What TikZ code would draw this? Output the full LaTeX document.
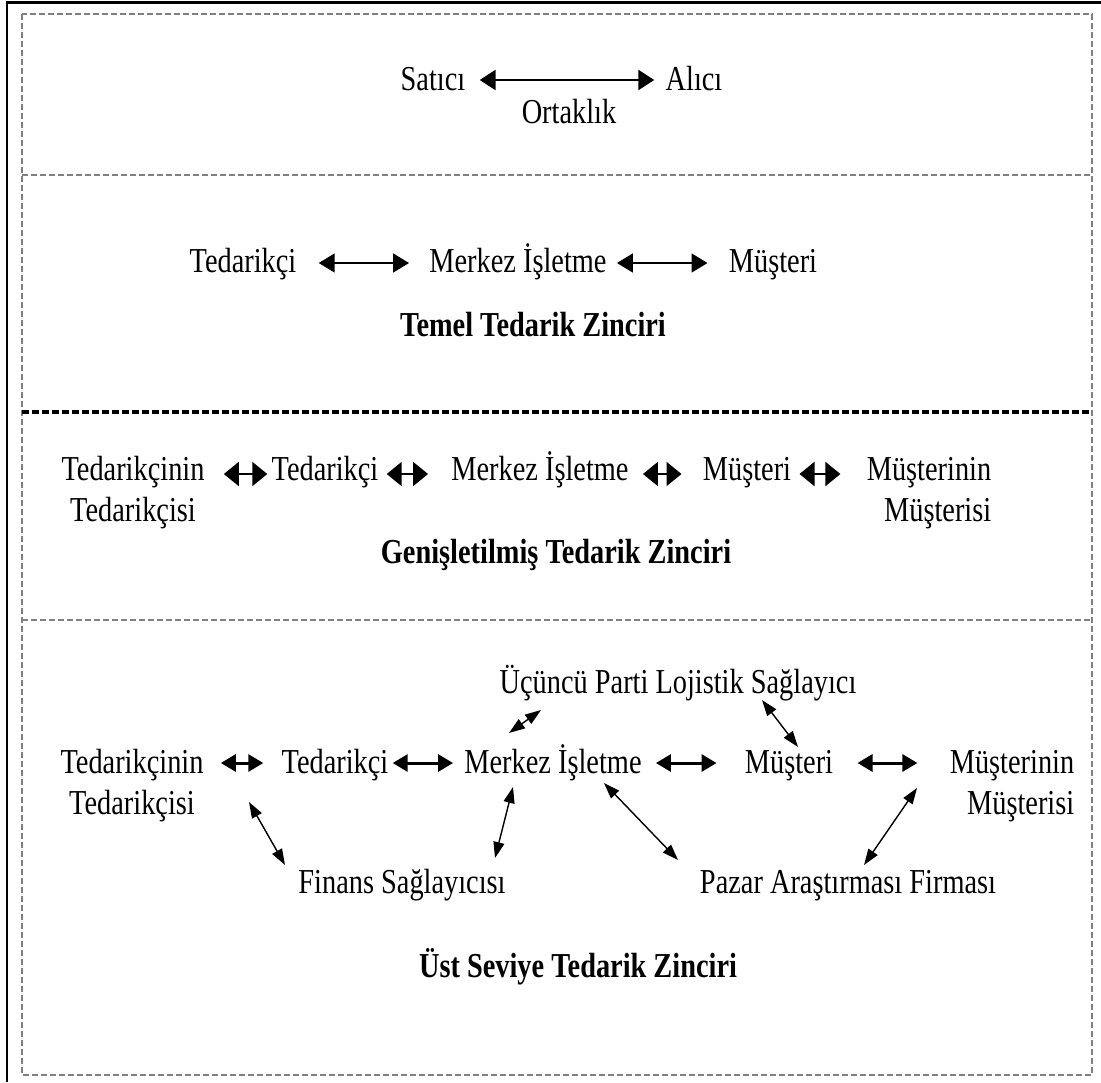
\documentclass[tikz,border=0pt]{standalone}
\usepackage{fontspec}
\setmainfont{Liberation Serif}[FakeStretch=0.81]
\usetikzlibrary{arrows.meta}
\begin{document}
\begin{tikzpicture}[x=0.5pt,y=-0.5pt,
  lbl/.style={inner sep=0pt, anchor=base, font=\fontsize{17.5}{20.5}\selectfont},
  pair/.style={inner sep=0pt, anchor=center, font=\fontsize{17.5}{20.5}\selectfont},
  ttl/.style={inner sep=0pt, anchor=base, font=\fontsize{17.5}{20.5}\selectfont\bfseries},
  frame/.style={line width=1.2pt, black},
  band/.style={gray, line width=0.7pt, dash pattern=on 3pt off 1.5pt},
  bandthick/.style={black, line width=2pt, dash pattern=on 3.5pt off 1.5pt},
  linkA/.style={line width=1.3pt, {Triangle[length=8pt,width=10pt]}-{Triangle[length=8pt,width=10pt]}},
  linkB/.style={line width=0.8pt, {Triangle[length=8pt,width=9.5pt]}-{Triangle[length=8pt,width=9.5pt]}},
  linkC/.style={line width=1pt, {Triangle[length=7.5pt,width=12pt]}-{Triangle[length=7.5pt,width=12pt]}},
  linkD/.style={line width=1.5pt, {Triangle[length=7.5pt,width=8.5pt]}-{Triangle[length=7.5pt,width=8.5pt]}},
  linkE/.style={line width=0.7pt, {Triangle[length=8pt,width=5.5pt]}-{Triangle[length=8pt,width=5.5pt]}}
]
\useasboundingbox (0,0) rectangle (1101,1082);
\fill[white] (0,0) rectangle (1101,1082);

% outer frame and the four dashed bands
\draw[frame] (7,1082) -- (7,2.5) -- (1101,2.5);
\draw[band] (22,14) rectangle (1092,1075);
\draw[band] (22,175) -- (1092,175);
\draw[bandthick] (22,412) -- (1092,412);
\draw[band] (22,620) -- (1092,620);

% row levels of the horizontal links
\coordinate (r1) at (0,80);
\coordinate (r2) at (0,263);
\coordinate (r3) at (0,474);
\coordinate (r4) at (0,763);

% --- Band 1: partnership
\node[lbl] (sat) at (433,90) {Satıcı};
\node[lbl] (alc) at (694,90) {Alıcı};
\node[lbl] (ort) at (569,123) {Ortaklık};
\draw[linkA, shorten <=7pt, shorten >=5.5pt] (sat.east |- r1) -- (alc.west |- r1);

% --- Band 2: basic supply chain
\node[lbl] (ted2) at (243,272) {Tedarikçi};
\node[lbl] (mrk2) at (518,272) {Merkez İşletme};
\node[lbl] (mus2) at (773,272) {Müşteri};
\node[ttl] (ttl2) at (533,336) {Temel Tedarik Zinciri};
\draw[linkB, shorten <=11pt, shorten >=10pt] (ted2.east |- r2) -- (mrk2.west |- r2);
\draw[linkB, shorten <=5pt, shorten >=10.5pt] (mrk2.east |- r2) -- (mus2.west |- r2);

% --- Band 3: extended supply chain
\node[pair, align=center] (tdn3) at (133,493) {Tedarikçinin\\Tedarikçisi};
\node[lbl] (ted3) at (325,480) {Tedarikçi};
\node[lbl] (mrk3) at (540,480) {Merkez İşletme};
\node[lbl] (mus3) at (747,480) {Müşteri};
\node[pair, align=right] (mun3) at (929,493) {Müşterinin\\Müşterisi};
\node[ttl] (ttl3) at (556,563) {Genişletilmiş Tedarik Zinciri};
\draw[linkC, shorten <=9.5pt, shorten >=2pt] (tdn3.east |- r3) -- (ted3.west |- r3);
\draw[linkC, shorten <=4pt, shorten >=11.5pt] (ted3.east |- r3) -- (mrk3.west |- r3);
\draw[linkC, shorten <=7pt, shorten >=10.5pt] (mrk3.east |- r3) -- (mus3.west |- r3);
\draw[linkC, shorten <=4pt, shorten >=13pt] (mus3.east |- r3) -- (mun3.west |- r3);

% --- Band 4: ultimate supply chain
\node[lbl] (tpl) at (678,693) {Üçüncü Parti Lojistik Sağlayıcı};
\node[pair, align=center] (tdn4) at (132,786) {Tedarikçinin\\Tedarikçisi};
\node[lbl] (ted4) at (335,773) {Tedarikçi};
\node[lbl] (mrk4) at (553,773) {Merkez İşletme};
\node[lbl] (mus4) at (789,773) {Müşteri};
\node[pair, align=right] (mun4) at (1012,786) {Müşterinin\\Müşterisi};
\node[lbl] (fin) at (402,893) {Finans Sağlayıcısı};
\node[lbl] (paz) at (848,893) {Pazar Araştırması Firması};
\node[ttl] (ttl4) at (578,977) {Üst Seviye Tedarik Zinciri};

\draw[linkD, shorten <=8.5pt, shorten >=9pt] (tdn4.east |- r4) -- (ted4.west |- r4);
\draw[linkD, shorten <=2pt, shorten >=5.5pt] (ted4.east |- r4) -- (mrk4.west |- r4);
\draw[linkD, shorten <=7pt, shorten >=14pt] (mrk4.east |- r4) -- (mus4.west |- r4);
\draw[linkD, shorten <=12pt, shorten >=16pt] (mus4.east |- r4) -- (mun4.west |- r4);

% free ends of the slanted links around the focal firm
\coordinate (tplL) at (541,710);
\coordinate (mrkU) at (509,733);
\coordinate (tplR) at (762,700);
\coordinate (musU) at (798,747);
\coordinate (tdnD) at (249,802);
\coordinate (finL) at (285,865);
\coordinate (mrkD) at (513,787);
\coordinate (finR) at (495,858);
\coordinate (mrkDR) at (604,783);
\coordinate (pazL) at (678,860);
\coordinate (munD) at (917,788);
\coordinate (pazR) at (864,865);

\draw[linkE] (tplL) -- (mrkU);
\draw[linkE] (tplR) -- (musU);
\draw[linkE] (tdnD) -- (finL);
\draw[linkE] (mrkD) -- (finR);
\draw[linkE] (mrkDR) -- (pazL);
\draw[linkE] (munD) -- (pazR);
\end{tikzpicture}
\end{document}
